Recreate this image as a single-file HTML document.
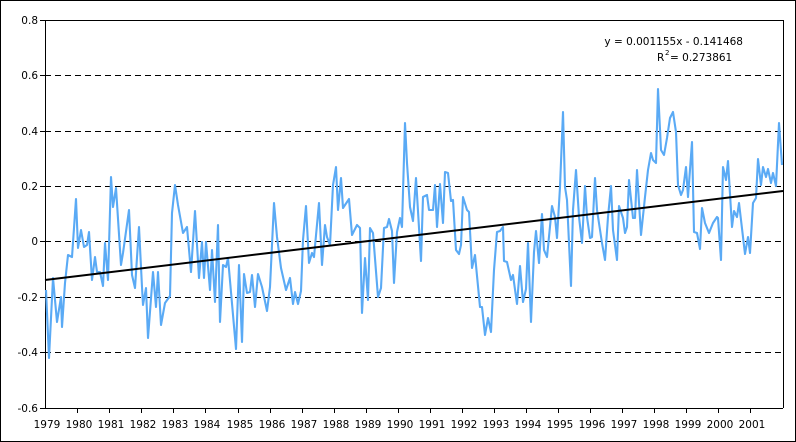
<!DOCTYPE html>
<html><head><style>
html,body{margin:0;padding:0;background:#fff}
svg{display:block}
text{font-family:"DejaVu Sans","Liberation Sans",sans-serif;font-size:10.5px;fill:#000}
</style></head><body>
<svg width="796" height="442" viewBox="0 0 796 442" xmlns="http://www.w3.org/2000/svg">
<rect x="0.5" y="0.5" width="795" height="441" fill="#fff" stroke="#000" stroke-width="1"/>
<g stroke="#000" stroke-width="1" stroke-dasharray="6,4">
<line x1="45" y1="20.5" x2="783" y2="20.5"/>
<line x1="45" y1="75.5" x2="783" y2="75.5"/>
<line x1="45" y1="131.5" x2="783" y2="131.5"/>
<line x1="45" y1="186.5" x2="783" y2="186.5"/>
<line x1="45" y1="241.5" x2="783" y2="241.5"/>
<line x1="45" y1="297.5" x2="783" y2="297.5"/>
<line x1="45" y1="352.5" x2="783" y2="352.5"/>
</g>
<line x1="45" y1="20.5" x2="783.5" y2="20.5" stroke="#000"/>
<line x1="783.5" y1="20" x2="783.5" y2="408" stroke="#000"/>
<line x1="45.5" y1="20" x2="45.5" y2="408" stroke="#000"/>
<line x1="40" y1="408.5" x2="783" y2="408.5" stroke="#000"/>
<g stroke="#000">
<line x1="40" y1="20.5" x2="45" y2="20.5"/><line x1="40" y1="75.5" x2="45" y2="75.5"/>
<line x1="40" y1="131.5" x2="45" y2="131.5"/><line x1="40" y1="186.5" x2="45" y2="186.5"/>
<line x1="40" y1="241.5" x2="45" y2="241.5"/><line x1="40" y1="297.5" x2="45" y2="297.5"/>
<line x1="40" y1="352.5" x2="45" y2="352.5"/>
</g>
<g text-anchor="end">
<text x="38" y="24">0.8</text><text x="38" y="79">0.6</text><text x="38" y="135">0.4</text>
<text x="38" y="190">0.2</text><text x="38" y="245">0</text><text x="38" y="301">-0.2</text>
<text x="38" y="356">-0.4</text><text x="38" y="412">-0.6</text>
</g>
<g text-anchor="middle">
<text x="47" y="428">1979</text><text x="79" y="428">1980</text><text x="111" y="428">1981</text><text x="143" y="428">1982</text><text x="175" y="428">1983</text><text x="207" y="428">1984</text><text x="240" y="428">1985</text><text x="272" y="428">1986</text><text x="304" y="428">1987</text><text x="336" y="428">1988</text><text x="368" y="428">1989</text><text x="400" y="428">1990</text><text x="432" y="428">1991</text><text x="464" y="428">1992</text><text x="496" y="428">1993</text><text x="528" y="428">1994</text><text x="560" y="428">1995</text><text x="592" y="428">1996</text><text x="624" y="428">1997</text><text x="656" y="428">1998</text><text x="688" y="428">1999</text><text x="720" y="428">2000</text><text x="752" y="428">2001</text>
</g>
<g stroke="#000">
<line x1="77.5" y1="408" x2="77.5" y2="413"/><line x1="109.5" y1="408" x2="109.5" y2="413"/><line x1="141.5" y1="408" x2="141.5" y2="413"/><line x1="173.5" y1="408" x2="173.5" y2="413"/><line x1="205.5" y1="408" x2="205.5" y2="413"/><line x1="238.5" y1="408" x2="238.5" y2="413"/><line x1="270.5" y1="408" x2="270.5" y2="413"/><line x1="302.5" y1="408" x2="302.5" y2="413"/><line x1="334.5" y1="408" x2="334.5" y2="413"/><line x1="366.5" y1="408" x2="366.5" y2="413"/><line x1="398.5" y1="408" x2="398.5" y2="413"/><line x1="430.5" y1="408" x2="430.5" y2="413"/><line x1="462.5" y1="408" x2="462.5" y2="413"/><line x1="494.5" y1="408" x2="494.5" y2="413"/><line x1="526.5" y1="408" x2="526.5" y2="413"/><line x1="558.5" y1="408" x2="558.5" y2="413"/><line x1="590.5" y1="408" x2="590.5" y2="413"/><line x1="622.5" y1="408" x2="622.5" y2="413"/><line x1="654.5" y1="408" x2="654.5" y2="413"/><line x1="686.5" y1="408" x2="686.5" y2="413"/><line x1="718.5" y1="408" x2="718.5" y2="413"/><line x1="750.5" y1="408" x2="750.5" y2="413"/>
</g>
<polyline fill="none" stroke="#5aaaf5" stroke-width="2.1" stroke-linejoin="round" points="46,290 49,358 53,278 57,322 61,297 62,327 65,283 68,255 72,257 76,199 78,248 81,230 84,247 87,245 89,232 92,280 95,257 97,272 100,272 103,286 105,243 108,280 111,177 113,207 116,188 121,265 123,253 129,210 132,275 135,288 139,227 142,287 143,305 146,288 148,338 153,272 156,307 158,272 161,325 165,303 170,296 172,213 175,185 178,205 183,233 187,227 191,272 195,211 199,278 202,242 204,278 206,242 210,290 212,250 215,302 218,225 220,322 223,265 226,267 228,258 236,349 239,265 242,342 244,274 247,293 250,292 252,275 255,307 258,274 262,287 267,311 270,287 274,203 277,237 281,268 286,290 290,278 293,304 295,292 298,304 301,291 303,240 306,206 309,263 312,253 314,257 319,203 322,265 325,225 327,237 330,245 333,185 336,167 338,210 341,178 343,208 347,202 349,199 352,235 357,225 360,228 362,313 365,258 368,300 370,228 373,233 378,297 381,288 384,228 387,227 389,219 392,231 394,283 397,232 400,218 402,227 405,123 407,163 410,207 413,221 416,178 421,261 423,197 427,195 429,210 433,210 435,185 437,227 440,184 443,223 445,172 448,173 451,201 453,200 456,250 459,254 461,245 463,197 467,210 469,212 472,268 475,255 480,307 482,307 485,335 488,318 491,332 494,270 497,232 500,231 503,227 504,261 507,262 511,280 513,275 517,304 520,266 523,302 526,289 528,243 531,322 534,252 536,231 539,263 542,214 544,250 547,257 552,206 555,217 557,238 560,187 563,112 565,187 567,200 571,286 573,210 576,170 579,217 582,243 585,186 587,217 590,238 592,237 595,178 597,210 602,243 605,260 608,217 611,186 613,230 617,260 619,206 623,218 625,233 627,227 629,180 633,218 635,218 637,170 641,235 645,197 648,170 651,153 653,160 656,163 658,89 661,150 664,155 667,138 670,118 673,112 676,132 678,185 681,195 683,190 686,167 688,197 692,142 694,232 697,233 700,249 702,208 705,223 709,233 713,223 717,217 718,218 721,260 723,167 726,180 728,161 732,227 734,211 737,217 739,203 745,254 748,237 750,253 753,203 756,198 758,159 761,185 763,167 766,177 768,169 771,183 773,173 776,186 779,123 782,165"/>
<line x1="45" y1="280" x2="783" y2="191" stroke="#000" stroke-width="2"/>
<text x="743" y="45" text-anchor="end">y = 0.001155x - 0.141468</text>
<text x="657" y="61">R</text><text x="665" y="55" style="font-size:7px">2</text><text x="670" y="61">= 0.273861</text>
</svg>
</body></html>
